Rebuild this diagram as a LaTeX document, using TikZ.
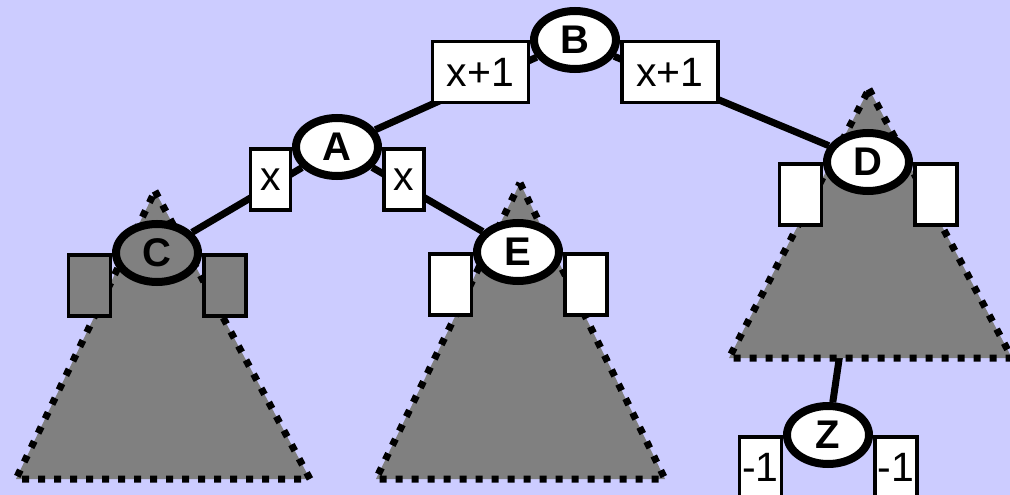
\documentclass[tikz,border=0pt]{standalone}
\usepackage{fontspec}
\setmainfont{Liberation Sans}
\usepackage{xcolor}
\usetikzlibrary{shapes.geometric}
\definecolor{bgblue}{HTML}{CCCCFF}
\definecolor{treegray}{HTML}{808080}
\pgfdeclarelayer{bg}
\pgfdeclarelayer{edges}
\pgfdeclarelayer{trees}
\pgfdeclarelayer{boxes}
\pgfsetlayers{bg,edges,trees,boxes,main}

\begin{document}
\begin{tikzpicture}[
        x=1pt, y=-1pt,
        treenode/.style={draw, ellipse, line width=8pt, fill=white, minimum width=82pt, minimum height=58pt, inner sep=0pt, font=\fontsize{40}{42}\selectfont\bfseries},
        heightbox/.style={draw, line width=3.5pt, fill=white, minimum width=42pt, minimum height=61pt, inner sep=0pt, font=\fontsize{41}{44}\selectfont},
        treeedge/.style={line width=7pt, black},
        subtree/.style={fill=treegray, line width=7pt, dash pattern=on 7pt off 9pt},
    ]
        \useasboundingbox (0,0) rectangle (1010,495);
        \begin{pgfonlayer}{bg}
            \fill[bgblue] (0,0) rectangle (1010,495);
        \end{pgfonlayer}

        % --- Nodos del arbol ---
        \node[treenode] (B) at (575,40) {B};
        \node[treenode] (A) at (337,147) {A};
        \node[treenode, fill=treegray] (C) at (157,253) {C};
        \node[treenode] (E) at (518,252) {E};
        \node[treenode] (D) at (868,162) {D};
        \node[treenode] (Z) at (828,435) {Z};

        % --- Cajas de altura ---
        \begin{pgfonlayer}{boxes}
            \node[heightbox, minimum width=96pt, anchor=north east] (B-l) at (B.west) {x+1};
            \node[heightbox, minimum width=96pt, anchor=north west] (B-r) at (B.east) {x+1};
            \node[heightbox, minimum width=40pt, anchor=north east] (A-l) at (A.west) {x};
            \node[heightbox, minimum width=40pt, anchor=north west] (A-r) at (A.east) {x};
            \foreach \n/\c in {C/treegray, E/white, D/white} {
                \node[heightbox, fill=\c, anchor=north east] (\n-l) at (\n.west) {};
                \node[heightbox, fill=\c, anchor=north west] (\n-r) at (\n.east) {};
            }
            \node[heightbox, anchor=north east] (Z-l) at (Z.west) {-1};
            \node[heightbox, anchor=north west] (Z-r) at (Z.east) {-1};
        \end{pgfonlayer}

        % --- Aristas ---
        \begin{pgfonlayer}{edges}
            \foreach \a/\b in {B/A, B/D, A/C, A/E, D/Z} {
                \draw[treeedge] (\a) -- (\b);
            }
        \end{pgfonlayer}

        % --- Subarboles ---
        \begin{pgfonlayer}{trees}
            \draw[subtree] (155,191) -- (310,479) -- (16,479) -- cycle;
            \draw[subtree] (520,183) -- (665,479) -- (376,479) -- cycle;
            \draw[subtree] (869,89) -- (1012,358) -- (729,358) -- cycle;
        \end{pgfonlayer}
    \end{tikzpicture}
\end{document}
